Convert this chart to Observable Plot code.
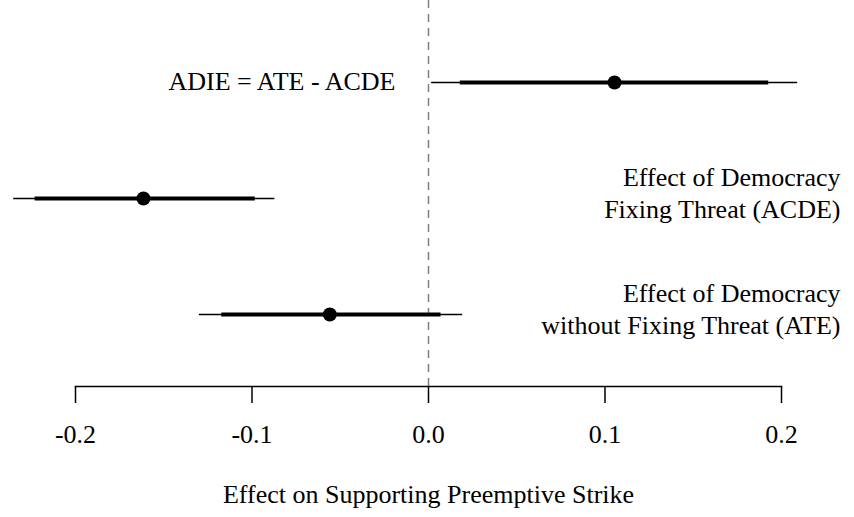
<!DOCTYPE html>
<html>
<head>
<meta charset="utf-8">
<script src="https://cdn.jsdelivr.net/npm/d3@7"></script>
<script src="https://cdn.jsdelivr.net/npm/@observablehq/plot@0.6"></script>
<style>
  html, body { margin: 0; padding: 0; background: #fff; }
  #chart svg { display: block; }
</style>
</head>
<body>
<div id="chart"></div>
<script>
const rows = ["ADIE", "ACDE", "ATE"];
const estimates = [0.1054, -0.1615, -0.0559];
const lo95 = [0.0015, -0.2353, -0.1301];
const hi95 = [0.2089, -0.0873, 0.0191];
const lo90 = [0.0177, -0.2232, -0.1174];
const hi90 = [0.1925, -0.0984, 0.0068];
const xTicks = [-0.2, -0.1, 0.0, 0.1, 0.2];
const leftLabels = ["ADIE = ATE - ACDE", "", ""];
const rightLabels = ["", "Effect of Democracy\nFixing Threat (ACDE)", "Effect of Democracy\nwithout Fixing Threat (ATE)"];
const xTitle = "Effect on Supporting Preemptive Strike";

const data = rows.map((r, i) => ({
  row: r, est: estimates[i], lo95: lo95[i], hi95: hi95[i], lo90: lo90[i], hi90: hi90[i],
  left: leftLabels[i], right: rightLabels[i]
}));

const font = "'Liberation Serif', 'Times New Roman', serif";
const fs = 26;

const chart = Plot.plot({
  width: 854,
  height: 517,
  marginLeft: 75,
  marginRight: 73,
  marginTop: 0,
  marginBottom: 131,
  style: { fontFamily: font, fontSize: fs + "px", color: "#000", background: "#fff" },
  x: { domain: [-0.2, 0.2] },
  y: { type: "point", domain: rows, range: [81, 314], padding: 0, axis: null },
  marks: [
    Plot.ruleX([0], { stroke: "#808080", strokeWidth: 1.5, strokeDasharray: "8,6" }),
    Plot.frame({ anchor: "bottom", stroke: "#000", strokeWidth: 1.5 }),
    Plot.axisX(xTicks, {
      anchor: "bottom", tickSize: 17, tickPadding: 21, strokeWidth: 1.5,
      tickFormat: d => d.toFixed(1), fontSize: fs, label: null
    }),
    Plot.link(data, { x1: "lo95", x2: "hi95", y: "row", stroke: "#000", strokeWidth: 1.7 }),
    Plot.link(data, { x1: "lo90", x2: "hi90", y: "row", stroke: "#000", strokeWidth: 4.2 }),
    Plot.dot(data, { x: "est", y: "row", r: 7, fill: "#000", stroke: "none" }),
    Plot.text(data.filter(d => d.left), {
      x: () => 0, y: "row", text: "left", textAnchor: "end", dx: -33, dy: -1, fontSize: fs, fill: "#000"
    }),
    Plot.text(data.filter(d => d.right), {
      frameAnchor: "right", y: "row", text: "right", textAnchor: "end", dx: 59, dy: -7,
      lineHeight: 1.24, fontSize: fs, fill: "#000"
    }),
    Plot.text([xTitle], {
      frameAnchor: "bottom", text: d => d, dy: 116, fontSize: fs, fill: "#000"
    })
  ]
});

document.getElementById("chart").appendChild(chart);
</script>
</body>
</html>
